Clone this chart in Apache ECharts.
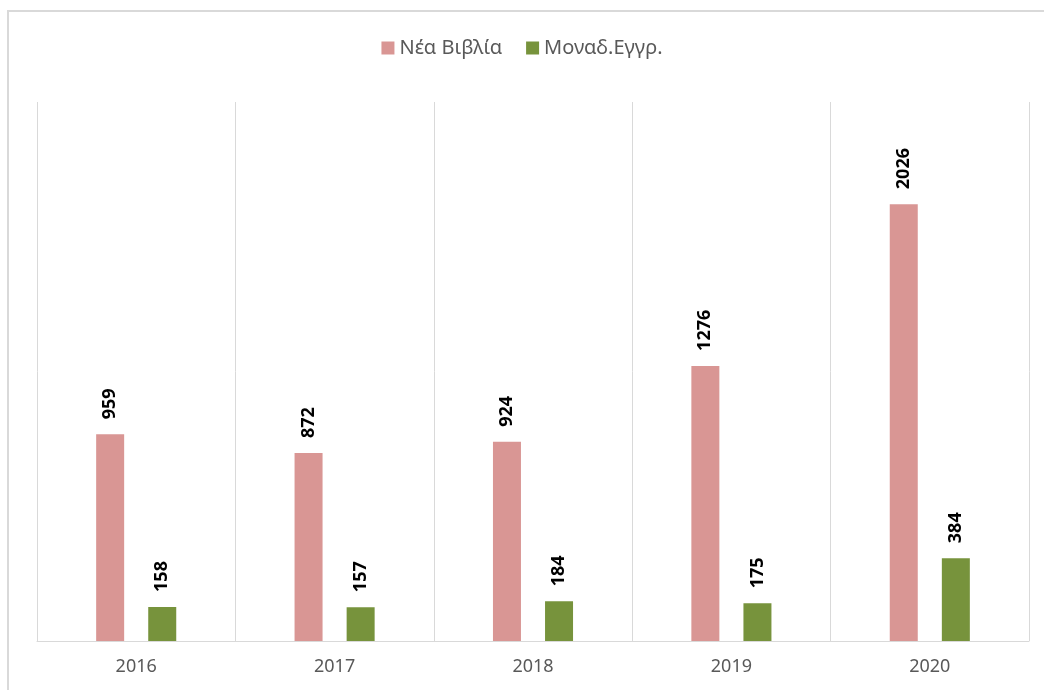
<!DOCTYPE html>
<html>
<head>
<meta charset="utf-8">
<script src="https://cdn.jsdelivr.net/npm/echarts@6/dist/echarts.min.js"></script>
<style>
  html, body { margin: 0; padding: 0; background: #fff; }
  #chart { width: 1044px; height: 690px; }
</style>
</head>
<body>
<div id="chart"></div>
<script>
// data
var years = ['2016', '2017', '2018', '2019', '2020'];
var newBooks = [959, 872, 924, 1276, 2026];
var unitRecords = [158, 157, 184, 175, 384];
var seriesNames = ['Νέα Βιβλία', 'Μοναδ.Εγγρ.'];

var chart = echarts.init(document.getElementById('chart'));

var labelStyle = {
    show: true,
    position: 'top',
    distance: 15,
    rotate: 90,
    align: 'left',
    verticalAlign: 'middle',
    color: '#000',
    fontWeight: 'bold',
    fontSize: 18,
    fontFamily: 'Noto Sans'
};

var option = {
    backgroundColor: '#fff',
    animation: false,
    textStyle: { fontFamily: 'Noto Sans' },
    graphic: [{
        type: 'rect',
        shape: { x: 8, y: 11, width: 1060, height: 700 },
        style: { fill: 'none', stroke: '#d9d9d9', lineWidth: 2 },
        silent: true
    }],
    legend: {
        top: 33,
        left: 'center',
        itemWidth: 13,
        itemHeight: 13,
        itemGap: 24,
        icon: 'rect',
        textStyle: { color: '#595959', fontSize: 20, fontFamily: 'Noto Sans' },
        data: seriesNames
    },
    grid: { left: 37, right: 15, top: 102, bottom: 49 },
    xAxis: {
        type: 'category',
        data: years,
        axisLine: { lineStyle: { color: '#d9d9d9', width: 1 } },
        axisTick: { show: false },
        splitLine: { show: true, lineStyle: { color: '#d9d9d9' } },
        axisLabel: { color: '#595959', fontSize: 18, margin: 17, fontFamily: 'Noto Sans' }
    },
    yAxis: {
        type: 'value',
        min: 0,
        max: 2500,
        show: false,
        splitLine: { show: false }
    },
    series: [{
        name: seriesNames[0],
        type: 'bar',
        data: newBooks,
        barWidth: 28,
        barGap: '86%',
        itemStyle: { color: '#d99694' },
        label: labelStyle
    }, {
        name: seriesNames[1],
        type: 'bar',
        data: unitRecords,
        barWidth: 28,
        itemStyle: { color: '#77933c' },
        label: labelStyle
    }]
};

chart.setOption(option);
</script>
</body>
</html>
